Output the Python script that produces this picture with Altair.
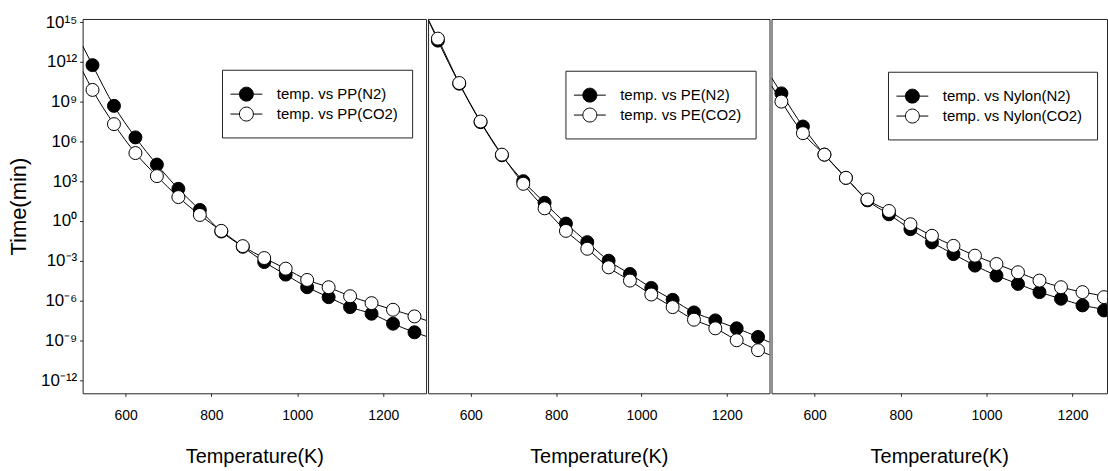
import altair as alt
import pandas as pd

# Temperatures of the measured points (K)
T_PTS = [523, 573, 623, 673, 723, 773, 823, 873, 923, 973, 1023, 1073, 1123, 1173, 1223, 1273]

# log10(time in min)
PP_N2 = [11.75, 8.68, 6.3, 4.25, 2.42, 0.83, -0.8, -1.95, -3.1, -4.05, -5.0, -5.75, -6.5, -7.0, -7.75, -8.4]
PP_CO2 = [9.88, 7.3, 5.12, 3.38, 1.8, 0.45, -0.75, -1.9, -2.8, -3.6, -4.45, -5.0, -5.68, -6.2, -6.7, -7.2]
PE_N2 = [13.6, 10.35, 7.45, 4.95, 3.0, 1.37, -0.2, -1.6, -3.0, -4.0, -5.05, -5.95, -6.9, -7.5, -8.1, -8.75]
PE_CO2 = [13.75, 10.4, 7.5, 5.0, 2.8, 0.95, -0.75, -2.1, -3.5, -4.5, -5.55, -6.5, -7.45, -8.1, -9.0, -9.75]
NY_N2 = [9.62, 7.12, 5.0, 3.25, 1.55, 0.5, -0.62, -1.62, -2.5, -3.37, -4.12, -4.75, -5.37, -5.87, -6.37, -6.75]
NY_CO2 = [9.0, 6.62, 5.0, 3.25, 1.62, 0.75, -0.25, -1.12, -1.88, -2.62, -3.25, -3.87, -4.5, -5.0, -5.37, -5.75]

# fitted-curve ends (log10 time at the panel's left / right edge)
PP_N2_ENDS = [13.2, -8.7]
PP_CO2_ENDS = [11.3, -7.5]
PE_N2_ENDS = [15.2, -9.15]
PE_CO2_ENDS = [15.2, -10.1]
NY_N2_ENDS = [10.8, -6.9]
NY_CO2_ENDS = [10.2, -5.9]

X_TICKS = [600, 800, 1000, 1200]
Y_TICK_EXP = [15, 12, 9, 6, 3, 0, -3, -6, -9, -12]

SUP = {"0": "⁰", "1": "¹", "2": "²", "3": "³", "4": "⁴", "5": "⁵",
       "6": "⁶", "7": "⁷", "8": "⁸", "9": "⁹", "-": "⁻"}


def sup_label(e):
    return "10" + "".join(SUP[c] for c in str(e))


label_expr = ""
for e in Y_TICK_EXP:
    label_expr += f"round(log(datum.value)/LN10) == {e} ? '{sup_label(e)}' : "
label_expr += "''"

FONT = "Liberation Sans"
R = 0.7
L = 1.6
SYMBOL = (f"M-{L},0L-{R},0M{R},0L{L},0"
          f"M-{R},0A{R},{R},0,1,1,{R},0A{R},{R},0,1,1,-{R},0Z")
FRAME = "#222222"


def panel(name, n2, co2, n2_ends, co2_ends, x_max, width, first, lx, ly):
    lab_n2 = f"temp. vs {name}(N2)"
    lab_co2 = f"temp. vs {name}(CO2)"
    pts = pd.DataFrame({
        "T": T_PTS + T_PTS,
        "t": [10 ** v for v in n2 + co2],
        "series": [lab_n2] * len(T_PTS) + [lab_co2] * len(T_PTS),
        "k": list(range(2 * len(T_PTS))),
    })
    lT = [500] + T_PTS + [x_max]
    lines_df = pd.DataFrame({
        "T": lT + lT,
        "t": [10 ** v for v in [n2_ends[0]] + n2 + [n2_ends[1]] + [co2_ends[0]] + co2 + [co2_ends[1]]],
        "series": [lab_n2] * len(lT) + [lab_co2] * len(lT),
    })
    x = alt.X("T:Q",
              scale=alt.Scale(domain=[500, x_max], nice=False, zero=False),
              axis=alt.Axis(values=X_TICKS, format="d", title="Temperature(K)", grid=False,
                            domain=False, tickSize=3, tickColor=FRAME,
                            labelFont=FONT, labelFontSize=14, labelColor="black",
                            labelPadding=12, titleFont=FONT, titleFontSize=20,
                            titleFontWeight="normal", titleColor="black",
                            titlePadding=25))
    if first:
        yaxis = alt.Axis(values=[10.0 ** e for e in Y_TICK_EXP], labelExpr=label_expr,
                         title="Time(min)", grid=False, domain=False, tickSize=3,
                         tickColor=FRAME, labelFont=FONT, labelFontSize=17,
                         labelColor="black", labelPadding=3, titleFont=FONT,
                         titleFontSize=22, titleFontWeight="normal",
                         titleColor="black", titlePadding=10)
    else:
        yaxis = None
    y = alt.Y("t:Q", scale=alt.Scale(type="log", domain=[1e-13, 1.7e15], nice=False),
              axis=yaxis)
    lines = alt.Chart(lines_df).mark_line(
        color="black", strokeWidth=1, interpolate="monotone", clip=True
    ).encode(x=x, y=y, detail="series:N")
    points = alt.Chart(pts).mark_circle(
        size=170, opacity=1, stroke="black", strokeWidth=1, clip=True
    ).encode(
        x=x, y=y,
        fill=alt.Fill("series:N",
                      scale=alt.Scale(domain=[lab_n2, lab_co2], range=["black", "white"]),
                      legend=alt.Legend(title=None, orient="none", legendX=lx, legendY=ly,
                                        symbolType=SYMBOL, symbolSize=400,
                                        symbolStrokeColor="black", symbolStrokeWidth=1,
                                        symbolOpacity=1,
                                        labelFont=FONT, labelFontSize=15,
                                        labelColor="black", labelOffset=20,
                                        rowPadding=0, padding=14,
                                        strokeColor=FRAME, fillColor="white")),
        order=alt.Order("k:Q"),
    )
    return alt.layer(lines, points).properties(width=width, height=376)


p1 = panel("PP", PP_N2, PP_CO2, PP_N2_ENDS, PP_CO2_ENDS, 1300, 345, True, 140, 51)
p2 = panel("PE", PE_N2, PE_CO2, PE_N2_ENDS, PE_CO2_ENDS, 1300, 343, False, 138, 52)
p3 = panel("Nylon", NY_N2, NY_CO2, NY_N2_ENDS, NY_CO2_ENDS, 1280, 337, False, 117, 53)

chart = alt.hconcat(p1, p2, p3, spacing=0).resolve_scale(
    fill="independent", x="independent"
).resolve_legend(fill="independent").properties(
    padding={"left": 7, "top": 11, "right": 0, "bottom": 5},
    background="white",
).configure_view(stroke=FRAME, strokeWidth=1)

chart.save("out.html", embed_options={"renderer": "svg", "actions": False})
